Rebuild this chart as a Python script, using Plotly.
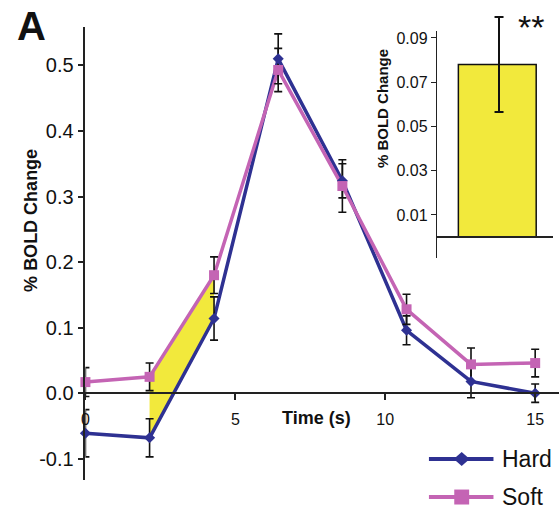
import plotly.graph_objects as go

# ---------------- data ----------------
time_s = [0.0, 2.14, 4.29, 6.43, 8.57, 10.71, 12.86, 15.0]
hard = [-0.061, -0.068, 0.114, 0.510, 0.324, 0.096, 0.018, 0.000]
hard_err = [0.036, 0.029, 0.033, 0.038, 0.026, 0.022, 0.025, 0.014]
soft = [0.017, 0.025, 0.180, 0.493, 0.316, 0.128, 0.044, 0.046]
soft_err = [0.022, 0.021, 0.028, 0.033, 0.040, 0.023, 0.025, 0.021]

inset_label = ["Hard - Soft"]
inset_value = [0.078]
inset_err = [0.0215]

y_ticks = [-0.1, 0.0, 0.1, 0.2, 0.3, 0.4, 0.5]
x_ticks = [0, 5, 10, 15]
inset_ticks = [0.01, 0.03, 0.05, 0.07, 0.09]

# ---------------- style ----------------
W, H = 559, 512
FONT = "Liberation Sans, Arial, Helvetica, sans-serif"
NAVY = "#2e3192"
PINK = "#c464b4"
YELLOW = "#f2e93c"
AX = "#222222"


def fx(p):
    return p / W


def fy(p):
    return 1 - p / H


fig = go.Figure()

# yellow area between curves (2nd to 3rd time point)
fig.add_trace(go.Scatter(
    x=[time_s[1], time_s[2], time_s[2], time_s[1], time_s[1]],
    y=[soft[1], soft[2], hard[2], hard[1], soft[1]],
    mode="lines", fill="toself", fillcolor=YELLOW,
    line=dict(width=0, color=YELLOW), hoverinfo="skip", showlegend=False,
))

# lines
fig.add_trace(go.Scatter(x=time_s, y=hard, mode="lines",
                         line=dict(color=NAVY, width=3.5), showlegend=False, cliponaxis=False))
fig.add_trace(go.Scatter(x=time_s, y=soft, mode="lines",
                         line=dict(color=PINK, width=3.5), showlegend=False, cliponaxis=False))

# error bars
for vals, errs in ((hard, hard_err), (soft, soft_err)):
    fig.add_trace(go.Scatter(
        x=time_s, y=vals, mode="markers",
        marker=dict(size=1, color="rgba(0,0,0,0)"),
        error_y=dict(type="data", array=errs, visible=True, color="#111111",
                     thickness=1.6, width=4),
        showlegend=False, cliponaxis=False,
    ))

# markers
fig.add_trace(go.Scatter(x=time_s, y=hard, mode="markers", name="Hard",
                         marker=dict(symbol="diamond", size=8.5, color=NAVY),
                         showlegend=False, cliponaxis=False))
fig.add_trace(go.Scatter(x=time_s, y=soft, mode="markers", name="Soft",
                         marker=dict(symbol="square", size=10, color=PINK),
                         showlegend=False, cliponaxis=False))

# inset bar
fig.add_trace(go.Bar(
    x=[0.52], y=inset_value, width=[0.67], xaxis="x2", yaxis="y2",
    marker=dict(color=YELLOW, line=dict(color="#111111", width=1.5)),
    showlegend=False, hovertext=inset_label, cliponaxis=False,
))
# inset error bar on a hidden, taller axis with identical scale (avoids clipping)
fig.add_trace(go.Scatter(
    x=[0.535], y=inset_value, xaxis="x2", yaxis="y3", mode="markers",
    marker=dict(size=1, color="rgba(0,0,0,0)"),
    error_y=dict(type="data", array=inset_err, visible=True, color="#111111",
                 thickness=2, width=4.5),
    showlegend=False, cliponaxis=False,
))

Y2_ZERO, Y2_SCALE = 236.5, 2217

fig.update_layout(
    width=W, height=H,
    margin=dict(l=0, r=0, t=0, b=0),
    paper_bgcolor="white", plot_bgcolor="rgba(0,0,0,0)",
    font=dict(family=FONT, color="#111111"),
    showlegend=False,
    xaxis=dict(
        domain=[fx(82), 1], range=[0, (W - 82) / 30.2],
        anchor="free", position=fy(393),
        showline=True, linecolor=AX, linewidth=1.5,
        ticks="outside", ticklen=6, tickwidth=1.5, tickcolor=AX,
        tickvals=x_ticks, ticktext=[str(v) for v in x_ticks],
        tickfont=dict(size=16, family=FONT, color="#111111"),
        ticklabelstandoff=6,
        showgrid=False, zeroline=False,
    ),
    yaxis=dict(
        domain=[fy(480), fy(26)], range=[(393 - 480) / 657, (393 - 26) / 657],
        anchor="x",
        showline=True, linecolor=AX, linewidth=1.5,
        ticks="outside", ticklen=6, tickwidth=1.5, tickcolor=AX,
        tickvals=y_ticks, ticktext=[f"{v:.1f}" for v in y_ticks],
        tickfont=dict(size=20, family=FONT, color="#111111"),
        showgrid=False, zeroline=False,
    ),
    xaxis2=dict(
        domain=[fx(436), fx(553)], range=[0, 1],
        anchor="free", position=fy(Y2_ZERO),
        showline=True, linecolor=AX, linewidth=1.5,
        ticks="", showticklabels=False, showgrid=False, zeroline=False,
    ),
    yaxis2=dict(
        domain=[fy(258), fy(30)],
        range=[(Y2_ZERO - 258) / Y2_SCALE, (Y2_ZERO - 30) / Y2_SCALE],
        anchor="x2",
        showline=True, linecolor=AX, linewidth=1.2,
        ticks="outside", ticklen=5, tickwidth=1.2, tickcolor=AX,
        tickvals=inset_ticks, ticktext=[f"{v:.2f}" for v in inset_ticks],
        tickfont=dict(size=16, family=FONT, color="#111111"),
        showgrid=False, zeroline=False,
    ),
    yaxis3=dict(
        domain=[fy(258), fy(4)],
        range=[(Y2_ZERO - 258) / Y2_SCALE, (Y2_ZERO - 4) / Y2_SCALE],
        anchor="x2", visible=False, showgrid=False, zeroline=False,
    ),
)

annotations = [
    dict(text="<b>A</b>", x=fx(28), y=fy(25), font=dict(size=40)),
    dict(text="<b>% BOLD Change</b>", x=fx(26.5), y=fy(220), textangle=-90,
         font=dict(size=18)),
    dict(text="<b>Time (s)</b>", x=fx(314.5), y=fy(418), font=dict(size=18)),
    dict(text="<b>% BOLD Change</b>", x=fx(381.5), y=fy(107.5), textangle=-90,
         font=dict(size=15)),
    dict(text="**", x=fx(531), y=fy(26), font=dict(size=34)),
    dict(text="Hard", x=fx(500), y=fy(459), xanchor="left", font=dict(size=23)),
    dict(text="Soft", x=fx(500), y=fy(497), xanchor="left", font=dict(size=23)),
]
for a in annotations:
    base = dict(xref="paper", yref="paper", showarrow=False, xanchor="center",
                yanchor="middle")
    base.update(a)
    base["font"] = dict(family=FONT, color="#111111", **a["font"])
    fig.add_annotation(**base)

# legend glyphs
shapes = []
for yc, col in ((459, NAVY), (497, PINK)):
    shapes.append(dict(type="line", xref="paper", yref="paper",
                       x0=fx(428), x1=fx(493), y0=fy(yc), y1=fy(yc),
                       line=dict(color=col, width=4)))
cx = 461
shapes.append(dict(type="path", xref="paper", yref="paper",
                   path=f"M {fx(cx-8)} {fy(459)} L {fx(cx)} {fy(459-7)} L {fx(cx+8)} {fy(459)} L {fx(cx)} {fy(459+7)} Z",
                   fillcolor=NAVY, line=dict(width=0)))
shapes.append(dict(type="rect", xref="paper", yref="paper",
                   x0=fx(cx-7.5), x1=fx(cx+7.5), y0=fy(497+7.5), y1=fy(497-7.5),
                   fillcolor=PINK, line=dict(width=0)))
fig.update_layout(shapes=shapes)

fig.write_html("out.html")
